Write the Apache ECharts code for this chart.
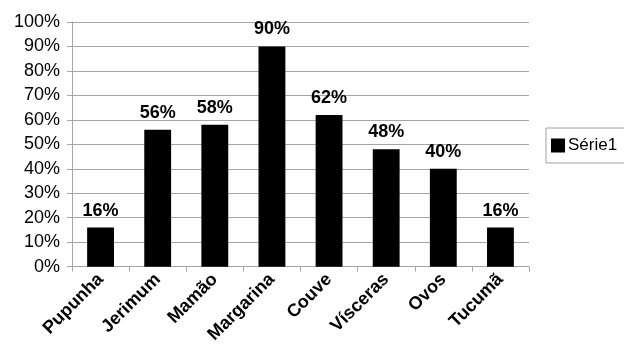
<!DOCTYPE html>
<html>
<head>
<meta charset="utf-8">
<script src="https://cdn.jsdelivr.net/npm/echarts@6/dist/echarts.min.js"></script>
<style>
  html, body { margin: 0; padding: 0; background: #fff; }
  #chart { width: 624px; height: 346px; }
</style>
</head>
<body>
<div id="chart"></div>
<script>
const categories = ['Pupunha', 'Jerimum', 'Mamão', 'Margarina', 'Couve', 'Vísceras', 'Ovos', 'Tucumã']
const serie1 = [16, 56, 58, 90, 62, 48, 40, 16]
const seriesName = 'Série1'

const font = '"Liberation Sans", Arial, sans-serif'
const gridColor = '#a6a6a6'

const chart = echarts.init(document.getElementById('chart'))

chart.setOption({
  animation: false,
  textStyle: { fontFamily: font },
  grid: { left: 72, right: 95, top: 22, bottom: 78, containLabel: false },
  legend: {
    data: [seriesName],
    left: 546,
    top: 128,
    orient: 'vertical',
    icon: 'rect',
    itemWidth: 14,
    itemHeight: 14,
    itemGap: 0,
    padding: [9, 12, 9, 5],
    borderColor: '#a0a0a0',
    borderWidth: 1,
    textStyle: { fontFamily: font, fontSize: 17, color: '#000', width: 64, padding: [0, 0, 0, -2] }
  },
  xAxis: {
    type: 'category',
    data: categories,
    axisLine: { lineStyle: { color: gridColor } },
    axisTick: { show: true, length: 5, lineStyle: { color: gridColor } },
    axisLabel: {
      rotate: 45,
      margin: 10,
      interval: 0,
      fontFamily: font,
      fontSize: 18,
      fontWeight: 'bold',
      color: '#000'
    }
  },
  yAxis: {
    type: 'value',
    min: 0,
    max: 100,
    interval: 10,
    axisLine: { show: true, lineStyle: { color: gridColor } },
    axisTick: { show: true, length: 5, lineStyle: { color: gridColor } },
    splitLine: { lineStyle: { color: gridColor, width: 1 } },
    axisLabel: {
      formatter: v => v + '%',
      margin: 12,
      fontFamily: font,
      fontSize: 18,
      color: '#000'
    }
  },
  series: [{
    name: seriesName,
    type: 'bar',
    data: serie1,
    barWidth: '47%',
    itemStyle: { color: '#000' },
    label: {
      show: true,
      position: 'top',
      distance: 8,
      formatter: p => p.value + '%',
      fontFamily: font,
      fontSize: 18,
      fontWeight: 'bold',
      color: '#000'
    }
  }]
})
</script>
</body>
</html>
